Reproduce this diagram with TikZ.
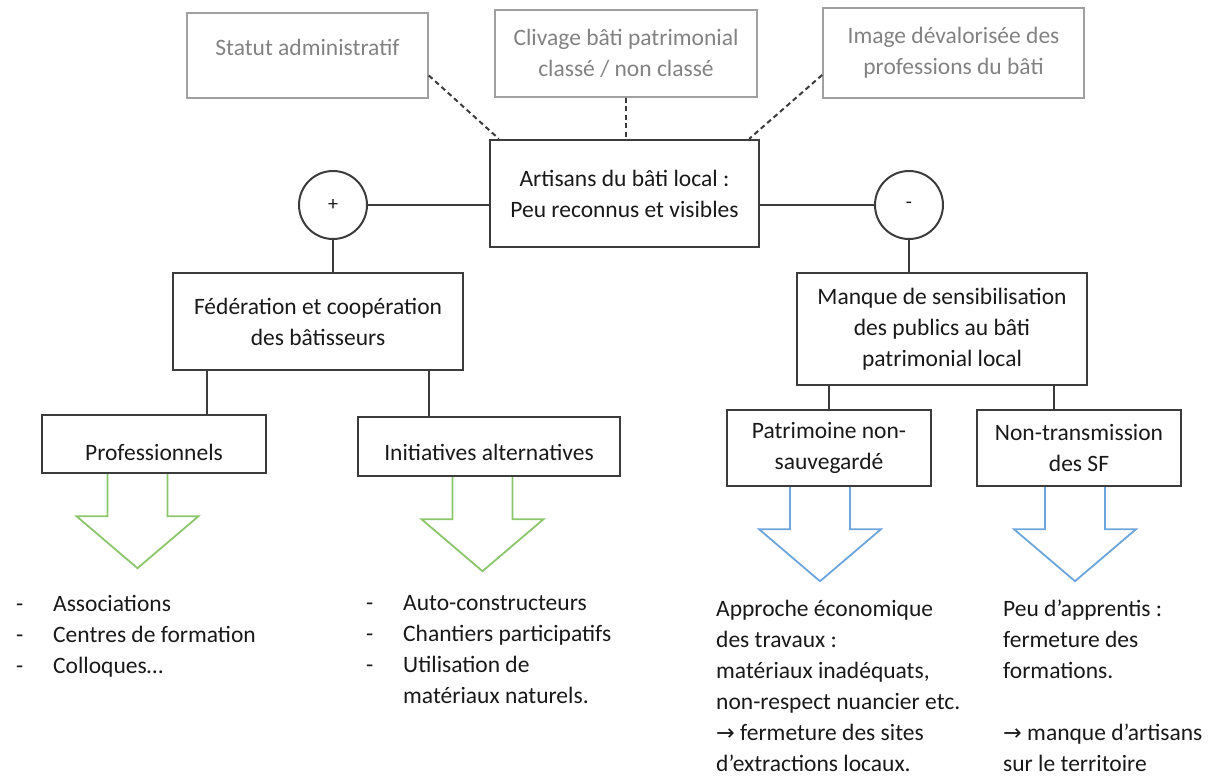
\documentclass[tikz,border=0pt]{standalone}
\usepackage{fontspec}
\setmainfont{Carlito}
\newfontfamily\arrowfont{DejaVu Sans}[Scale=0.95]
\usepackage{tikz}
\usetikzlibrary{positioning}
\definecolor{boxline}{RGB}{60,60,60}
\definecolor{greyline}{RGB}{160,160,160}
\definecolor{greytext}{RGB}{130,130,130}
\definecolor{inktext}{RGB}{25,25,25}
\definecolor{greenarr}{RGB}{140,198,108}
\definecolor{bluearr}{RGB}{108,164,220}
\newcommand{\lift}[2]{\raisebox{#1}[\height][\depth]{#2}}
\newcommand{\tiret}{\makebox[37pt][l]{-}}

\begin{document}
\begin{tikzpicture}[x=1pt,y=-1pt,
    every node/.style={font=\fontsize{23.5}{31}\selectfont,inner sep=0pt},
    greybox/.style={draw=greyline,line width=1.7pt,text=greytext,align=center},
    blackbox/.style={draw=boxline,line width=2.4pt,text=inktext,align=center},
    signe/.style={draw=boxline,line width=2pt,circle,minimum size=68pt,text=inktext,font=\fontsize{20}{20}\selectfont},
    link/.style={draw=boxline,line width=2pt},
    hint/.style={draw=boxline,line width=2pt,dash pattern=on 5pt off 3.5pt},
    liste/.style={anchor=north west,align=left,text=inktext}]
      \useasboundingbox (0,0) rectangle (1216,778);
      % the context (grey)
      \node[greybox,minimum width=241,minimum height=85] (statut) at (307.5,55.5) {\lift{8pt}{Statut administratif}};
      \node[greybox,minimum width=262,minimum height=87] (clivage) at (626,53.5) {Clivage bâti patrimonial\\classé / non classé};
      \node[greybox,minimum width=261,minimum height=90] (image) at (953.5,53) {Image dévalorisée des\\professions du bâti};
      %% the centre
      \node[blackbox,minimum width=269,minimum height=107] (artisans) at (624.5,193.5) {Artisans du bâti local :\\Peu reconnus et visibles};
      \node[signe] (plus) at (333,205) {+};
      \node[signe] (minus) at (909,205) {-};
      %% the + side
      \node[blackbox,minimum width=290,minimum height=97] (fede) at (318,321.5) {Fédération et coopération\\des bâtisseurs};
      \node[blackbox,minimum width=224,minimum height=58] (prof) at (154,444) {\lift{-8pt}{Professionnels}};
      \node[blackbox,minimum width=262,minimum height=59] (init) at (489,446.5) {\lift{-6pt}{Initiatives alternatives}};
      %% the - side
      \node[blackbox,minimum width=290,minimum height=112] (manque) at (942,329) {Manque de sensibilisation\\des publics au bâti\\patrimonial local};
      \node[blackbox,minimum width=204,minimum height=76] (patr) at (829,448) {Patrimoine non-\\sauvegardé};
      \node[blackbox,minimum width=204,minimum height=76] (nontr) at (1079,448) {Non-transmission\\des SF};
      % links
      \draw[hint] ([yshift=-20pt]statut.east) -- ([xshift=10pt]artisans.north west);
      \draw[hint] (clivage.south) -- (clivage.south |- artisans.north);
      \draw[hint] ([yshift=-22pt]image.west) -- ([xshift=-11pt]artisans.north east);
      \draw[link] (plus.east) -- (plus.east -| artisans.west);
      \draw[link] (artisans.east |- minus.west) -- (minus.west);
      \draw[link] (plus.south) -- (plus.south |- fede.north);
      \draw[link] (minus.south) -- (minus.south |- manque.north);
      \coordinate (fedeL) at ([xshift=-111pt]fede.south);
      \coordinate (fedeR) at ([xshift=111pt]fede.south);
      \coordinate (manqueL) at ([xshift=-113pt]manque.south);
      \coordinate (manqueR) at ([xshift=112pt]manque.south);
      \draw[link] (fedeL) -- (fedeL |- prof.north);
      \draw[link] (fedeR) -- (fedeR |- init.north);
      \draw[link] (manqueL) -- (manqueL |- patr.north);
      \draw[link] (manqueR) -- (manqueR |- nontr.north);
      % the hollow arrows
      \foreach \bx/\dx/\col in {prof/-16.5/greenarr,init/-6.5/greenarr,patr/-9/bluearr,nontr/-4/bluearr}
      {
        \draw[\col,line width=1.8pt] ([xshift=\dx-30]\bx.south) -- ++(0,42) -- ++(-31,0) -- ++(61,52) -- ++(61,-52) -- ++(-31,0) -- ++(0,-42);
      }
      % the texts under the arrows
      \node[liste] (prolist) at (16,595) {\tiret Associations\\\tiret Centres de formation\\\tiret Colloques…};
      \node[liste] (altlist) at (366,595) {\tiret Auto-constructeurs\\\tiret Chantiers participatifs\\\tiret Utilisation de\\\hspace*{37pt}matériaux naturels.};
      \node[liste] (patlist) at (716,600) {Approche économique\\des travaux :\\matériaux inadéquats,\\non-respect nuancier etc.\\{\arrowfont →} fermeture des sites\\d’extractions locaux.};
      \node[liste] (sflist) at (1003,600) {Peu d’apprentis :\\fermeture des\\formations.\\[31pt]{\arrowfont →} manque d’artisans\\sur le territoire};
    \end{tikzpicture}
\end{document}
